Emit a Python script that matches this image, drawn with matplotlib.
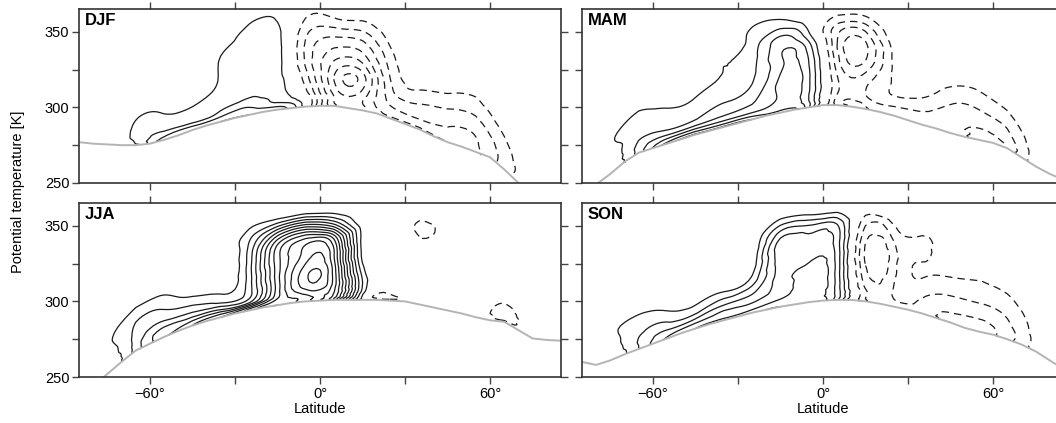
import numpy as np
import matplotlib.pyplot as plt
from matplotlib.tri import Triangulation, UniformTriRefiner, LinearTriInterpolator

plt.rcParams['font.family'] = ['Liberation Sans', 'DejaVu Sans']

# surface potential temperature (grey line), every 5 deg from 85S to 85N
lat_surf = np.arange(-85, 86, 5)
surf_djf = [277, 276, 275.5, 275, 275, 276, 278.5, 281.5, 285, 288, 290.5, 293, 295, 297, 298.5, 299.5, 300.5, 301,
            301, 299.5, 298, 296, 292.5, 289, 285.5, 281, 277, 274, 270.5, 267, 259, 250, 243, 238, 234]
surf_mam = [240, 249, 256, 264, 270, 273, 276, 279, 282, 284.5, 287, 289.5, 292, 294.5, 296.5, 298.5, 300, 301.5,
            301.5, 300.5, 299, 297, 294.5, 291.5, 288.5, 286, 283, 280.5, 278.5, 276.5, 273, 267, 261, 256, 252]
surf_jja = [238, 244, 252, 260, 267.5, 272, 276.5, 280.5, 284, 287, 289.5, 292, 294, 296, 297.5, 299, 300, 300.5,
            301, 301, 301, 301, 300.5, 300, 298, 296, 294, 292, 289.5, 287.5, 286.5, 281, 275.5, 274.5, 274]
surf_son = [260, 258, 261, 265, 268.5, 272, 275.5, 279, 282, 285, 287.5, 290, 292.5, 294.5, 296.5, 298, 299.5, 300.5,
            301, 301, 300, 298.5, 296.5, 294.5, 292, 289, 286, 282.5, 280, 278, 275, 271.5, 267, 261, 255]

# circulation field (contour units), one row per latitude (85S..85N every 10 deg),
# columns = height above the surface [K]
lat_field = lat_surf[::2]
offsets = [0, 2, 5, 10, 20, 30, 40, 50, 60, 70, 80]

djf_field = [
    [0, 0, 0, 0, 0, 0, 0, 0, 0, 0, 0],
    [0, 0, 0, 0, 0, 0, 0, 0, 0, 0, 0],
    [0.6, 1.1, 1.3, 1.2, 0.8, 0.2, 0, 0, 0, 0, 0],
    [3.6, 3.0, 2.1, 1.5, 0.8, 0.2, 0, 0, 0, 0, 0],
    [3.8, 3.2, 1.9, 1.4, 0.6, 0.1, 0, 0, 0, 0, 0],
    [4.0, 3.4, 2.4, 1.7, 1.2, 1.05, 1.05, 0.8, 0.3, 0, 0],
    [4.0, 3.5, 3.0, 2.1, 1.6, 1.5, 1.45, 1.35, 1.0, 0.4, 0],
    [3.5, 3.0, 1.9, 1.5, 1.4, 1.4, 1.4, 1.3, 0.9, 0.3, 0],
    [0.5, 0.3, 0, -0.8, -1.6, -2.2, -2.2, -1.7, -0.9, -0.3, 0],
    [-5, -5, -5, -5.5, -6, -5, -3.8, -2.3, -0.8, -0.2, 0],
    [-5, -5.2, -5, -5.5, -6.5, -5.2, -3.8, -2.4, -0.9, -0.2, 0],
    [-4.3, -3.8, -3.4, -2.8, -2.2, -1.8, -1.4, -0.8, -0.3, 0, 0],
    [-4.3, -3.8, -3.2, -2.6, -1.6, -0.7, -0.2, 0, 0, 0, 0],
    [-4.0, -3.6, -3.3, -3.0, -2.2, -1.2, -0.4, 0, 0, 0, 0],
    [-3.3, -3.2, -3.1, -3.0, -2.3, -1.5, -0.7, 0, 0, 0, 0],
    [-1.4, -1.5, -1.6, -1.5, -1.1, -0.5, 0, 0, 0, 0, 0],
    [0, -0.3, -0.4, -0.4, -0.3, 0, 0, 0, 0, 0, 0],
    [0, 0, 0, 0, 0, 0, 0, 0, 0, 0, 0],
]
mam_field = [
    [0, 0, 0, 0, 0, 0, 0, 0, 0, 0, 0],
    [0, 0, 0.1, 0.4, 0.9, 0.5, 0.1, 0, 0, 0, 0],
    [2.4, 2.4, 2.3, 1.8, 1.3, 0.9, 0.5, 0.2, 0, 0, 0],
    [5.5, 4.5, 3.2, 1.8, 1.2, 0.6, 0.2, 0, 0, 0, 0],
    [6.2, 5.0, 3.3, 1.95, 1.25, 0.7, 0.2, 0, 0, 0, 0],
    [6.2, 5.0, 3.6, 2.5, 1.7, 1.1, 1.0, 0.6, 0.2, 0, 0],
    [6.0, 5.0, 3.8, 3.0, 2.2, 1.8, 1.6, 1.4, 1.05, 0.4, 0],
    [5.5, 4.8, 4.5, 4.2, 4.3, 3.8, 3.9, 3.1, 1.2, 0.3, 0],
    [3.5, 3.3, 3.0, 3.1, 3.2, 3.0, 2.5, 1.0, 0.2, 0, 0],
    [-2.5, -2.5, -2.2, -1.8, -2.0, -2.6, -3.0, -2.6, -0.9, -0.2, 0],
    [-3.0, -3.0, -2.5, -2.0, -2.5, -3.8, -4.3, -3.2, -1.2, -0.2, 0],
    [-2.8, -2.6, -2.2, -1.2, -0.9, -0.85, -0.8, -0.5, -0.1, 0, 0],
    [-2.8, -2.6, -2.3, -1.8, -0.8, -0.3, 0, 0, 0, 0, 0],
    [-2.9, -2.8, -2.8, -2.6, -1.9, -1.05, -0.3, 0, 0, 0, 0],
    [-3.2, -3.2, -3.1, -2.8, -2.0, -1.2, -0.4, 0, 0, 0, 0],
    [-2.8, -2.8, -2.6, -2.2, -1.4, -0.6, 0, 0, 0, 0, 0],
    [-0.4, -0.4, -0.5, -0.5, -0.3, 0, 0, 0, 0, 0, 0],
    [0, 0, 0, 0, 0, 0, 0, 0, 0, 0, 0],
]
jja_field = [
    [0, 0, 0, 0, 0, 0, 0, 0, 0, 0, 0],
    [0, 0, 0.1, 0.3, 0.8, 0.6, 0.1, 0, 0, 0, 0],
    [2.4, 2.4, 2.4, 2.3, 1.9, 0.85, 0.3, 0, 0, 0, 0],
    [4.8, 4.6, 4.3, 3.1, 1.8, 0.8, 0.2, 0, 0, 0, 0],
    [6.0, 5.4, 4.2, 2.6, 0.9, 0.2, 0, 0, 0, 0, 0],
    [7.0, 6.0, 4.0, 1.8, 0.5, 0.1, 0, 0, 0, 0, 0],
    [8.5, 7.0, 4.0, 2.6, 2.5, 2.5, 2.3, 1.5, 0.4, 0, 0],
    [10, 9.5, 8.8, 8.5, 8.6, 8.6, 8.0, 4.0, 0.3, 0, 0],
    [10.5, 10.5, 11.2, 12.5, 12.6, 11.5, 10.5, 5.5, 0.3, 0, 0],
    [9, 9.5, 10, 10.5, 10.5, 10, 9, 4, 0.3, 0, 0],
    [0.2, 0.8, 1.5, 2.0, 1.4, 0.7, 0.6, 0.5, 0.2, 0, 0],
    [-0.3, -1.3, -0.8, -0.3, 0.2, 0.3, 0.3, 0.2, 0, 0, 0],
    [-0.2, -0.8, -0.4, 0, 0, 0, -0.5, -1.3, -0.5, 0, 0],
    [0, 0, 0, 0, 0, 0, 0, 0, 0, 0, 0],
    [0, 0, 0, 0, 0, 0, 0, 0, 0, 0, 0],
    [-0.8, -1.3, -1.5, -1.2, -0.3, 0, 0, 0, 0, 0, 0],
    [0, 0, 0, 0, 0, 0, 0, 0, 0, 0, 0],
    [0, 0, 0, 0, 0, 0, 0, 0, 0, 0, 0],
]
son_field = [
    [0, 0, 0, 0, 0, 0, 0, 0, 0, 0, 0],
    [0, 0.1, 0.3, 0.6, 0.8, 0.3, 0, 0, 0, 0, 0],
    [2.0, 2.0, 2.1, 1.8, 1.2, 0.5, 0.1, 0, 0, 0, 0],
    [4.2, 3.8, 3.1, 2.1, 0.8, 0.2, 0, 0, 0, 0, 0],
    [5.0, 4.5, 3.4, 1.9, 0.4, 0, 0, 0, 0, 0, 0],
    [5.3, 4.8, 4.2, 3.0, 0.8, 0.1, 0, 0, 0, 0, 0],
    [5.5, 5.0, 4.2, 3.3, 1.6, 0.5, 0.1, 0, 0, 0, 0],
    [6.0, 5.5, 5.0, 4.6, 4.5, 4.5, 4.6, 3.0, 0.6, 0, 0],
    [5.5, 5.3, 5.3, 5.5, 5.4, 4.7, 4.3, 3.2, 0.5, 0, 0],
    [3.6, 3.6, 3.6, 3.6, 3.6, 3.6, 3.5, 3.0, 0.5, 0, 0],
    [-2.0, -2.0, -1.8, -2.2, -2.8, -3.2, -2.9, -2.0, -0.6, 0, 0],
    [-2.4, -2.4, -2.0, -1.9, -2.2, -2.4, -2.2, -1.4, -0.3, 0, 0],
    [-2.6, -2.6, -2.4, -2.0, -1.2, -0.9, -1.2, -1.1, -0.3, 0, 0],
    [-3.2, -3.2, -3.1, -2.6, -1.8, -1.0, -0.3, 0, 0, 0, 0],
    [-3.3, -3.3, -3.2, -2.8, -1.9, -1.2, -0.6, 0, 0, 0, 0],
    [-2.5, -2.5, -2.5, -2.2, -1.6, -1.0, -0.3, 0, 0, 0, 0],
    [-0.6, -0.6, -0.7, -0.7, -0.6, -0.3, 0, 0, 0, 0, 0],
    [0, 0, 0, 0, 0, 0, 0, 0, 0, 0, 0],
]

pos_levels = np.arange(1, 14)
neg_levels = np.arange(-9, 0)

panels = [('DJF', surf_djf, djf_field), ('MAM', surf_mam, mam_field),
          ('JJA', surf_jja, jja_field), ('SON', surf_son, son_field)]
boxes = [[0.0748, 0.5674, 0.4564, 0.4113], [0.5511, 0.5674, 0.4564, 0.4113],
         [0.0748, 0.1087, 0.4564, 0.4113], [0.5511, 0.1087, 0.4564, 0.4113]]

fig = plt.figure(figsize=(10.56, 4.23), dpi=100)

for n, ((name, surf, field), box) in enumerate(zip(panels, boxes)):
    ax = fig.add_axes(box)
    surf = np.asarray(surf, float)
    z = np.asarray(field, float)
    nl, no = z.shape
    # smooth in (latitude, level index) space, then map levels to theta
    LAT, KK = np.meshgrid(lat_field, np.arange(no) * 8.0, indexing='ij')
    TH = surf[::2][:, None] + np.asarray(offsets, float)[None, :]
    idx = np.arange(nl * no).reshape(nl, no)
    tris = []
    for i in range(nl - 1):
        for k in range(no - 1):
            a, b, c, d = idx[i, k], idx[i + 1, k], idx[i, k + 1], idx[i + 1, k + 1]
            tris += [[a, b, d], [a, d, c]]
    tri = Triangulation(LAT.ravel(), KK.ravel(), np.array(tris))
    refiner = UniformTriRefiner(tri)
    fine, zf = refiner.refine_field(z.ravel(), subdiv=3)
    _, thf = refiner.refine_field(TH.ravel(), subdiv=3,
                                  triinterpolator=LinearTriInterpolator(tri, TH.ravel()))
    ftri = Triangulation(fine.x, thf, fine.triangles)

    ax.tricontour(ftri, zf, levels=pos_levels, colors='#1a1a1a', linewidths=0.9)
    ax.tricontour(ftri, zf, levels=neg_levels, colors='#1a1a1a', linewidths=0.9,
                  linestyles=[(0, (6, 4))] * len(neg_levels))
    ax.plot(lat_surf, surf, color='#b4b4b4', lw=1.4)

    ax.set_xlim(-85, 85)
    ax.set_ylim(250, 365)
    ax.set_xticks([-60, -30, 0, 30, 60])
    ax.set_yticks([250, 275, 300, 325, 350])
    if n >= 2:
        ax.set_xticklabels(['\u221260\u00b0', '', '0\u00b0', '', '60\u00b0'])
        ax.set_xlabel('Latitude', fontsize=10.5, labelpad=1)
    else:
        ax.set_xticklabels([])
    if n % 2 == 0:
        ax.set_yticklabels(['250', '', '300', '', '350'])
    else:
        ax.set_yticklabels([])
    ax.tick_params(direction='out', top=True, right=True, length=5, width=1,
                   color='#444444', labelsize=10.5, pad=2)
    for sp in ax.spines.values():
        sp.set_linewidth(1.2)
        sp.set_color('#333333')
    ax.text(0.012, 0.975, name, transform=ax.transAxes, fontsize=12,
            fontweight='bold', va='top', ha='left')

fig.text(0.017, 0.546, 'Potential temperature [K]', rotation=90,
         va='center', ha='center', fontsize=10.5)

fig.savefig('out.png', dpi=100)
